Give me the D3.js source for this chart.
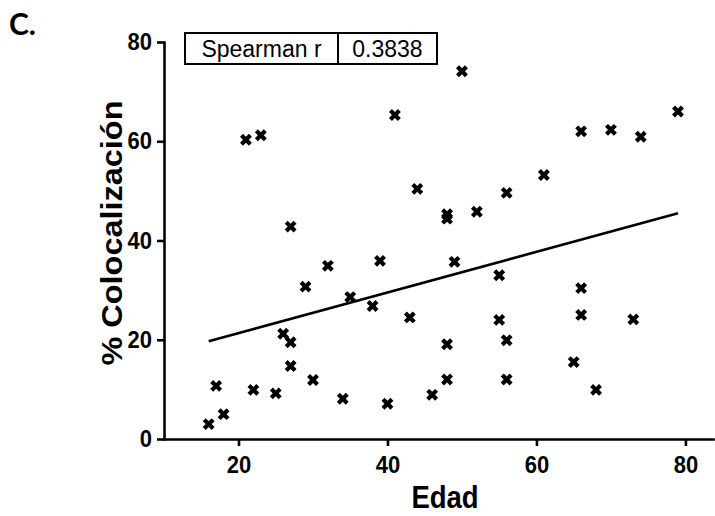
<!DOCTYPE html>
<html><head><meta charset="utf-8">
<script src="https://cdn.jsdelivr.net/npm/d3@7"></script>
<style>
body{margin:0;background:#fff}
svg{display:block;background:#fff}
text{font-family:"Liberation Sans",Arial,sans-serif;fill:#000}
</style>
</head><body>
<svg id="chart" width="715" height="516"></svg>
<script>
// ---- data ----
const ages  = [16,17,18,21,22,23,25,26,27,27,27,29,30,32,34,35,38,39,40,41,43,44,46,48,48,48,48,49,50,52,55,55,56,56,56,61,65,66,66,66,68,70,73,74,79];
const coloc = [3.0,10.7,5.0,60.3,9.9,61.2,9.2,21.2,19.5,14.7,42.8,30.7,11.9,34.9,8.1,28.6,26.8,35.9,7.1,65.3,24.5,50.4,8.9,45.3,44.4,19.1,12.0,35.7,74.1,45.8,33.0,24.0,49.6,19.9,12.0,53.2,15.5,62.0,30.4,25.0,9.9,62.3,24.1,60.9,66.0];
const fitAges   = [16, 79];
const fitValues = [19.7, 45.5];
const xTicks = [20, 40, 60, 80];
const yTicks = [0, 20, 40, 60, 80];
const statLabel = "Spearman r";
const statValue = "0.3838";
const xTitle = "Edad";
const yTitle = "% Colocalización";
const panelLabel = "C.";

// ---- layout ----
const svg = d3.select("#chart");
const x = d3.scaleLinear().domain([10, 83.7]).range([164, 713]);
const y = d3.scaleLinear().domain([0, 80]).range([439, 42]);

// axes
const gx = svg.append("g").attr("transform", `translate(0,${y(0)})`)
  .call(d3.axisBottom(x).tickValues(xTicks).tickSize(7).tickSizeOuter(0).tickPadding(9));
const gy = svg.append("g").attr("transform", `translate(${x(10)},0)`)
  .call(d3.axisLeft(y).tickValues(yTicks).tickSize(7).tickSizeOuter(0).tickPadding(5));
[gx, gy].forEach(g => {
  g.selectAll("path.domain").attr("stroke", "#000").attr("stroke-width", 2.6).attr("stroke-linecap", "square");
  g.selectAll(".tick line").attr("stroke", "#000").attr("stroke-width", 2.6);
  g.selectAll(".tick text").attr("font-size", 22).attr("font-weight", "bold")
    .attr("font-family", "'Liberation Sans',Arial,sans-serif").attr("fill", "#000")
    .attr("transform", "scale(1,1.08)");
});

// regression line
svg.append("path")
  .datum(fitAges.map((a, i) => [a, fitValues[i]]))
  .attr("fill", "none").attr("stroke", "#000").attr("stroke-width", 2.6)
  .attr("d", d3.line().x(d => x(d[0])).y(d => y(d[1])));

// points (bold X markers)
const sym = d3.symbol().type(d3.symbolCross).size(88);
svg.append("g").selectAll("path").data(ages.map((a, i) => [a, coloc[i]]))
  .join("path")
  .attr("d", sym)
  .attr("transform", d => `translate(${x(d[0])},${y(d[1])}) rotate(45)`)
  .attr("fill", "#000");

// stat box
const box = svg.append("g");
box.append("rect").attr("x", 185).attr("y", 33).attr("width", 252).attr("height", 31)
  .attr("fill", "#fff").attr("stroke", "#000").attr("stroke-width", 2);
box.append("line").attr("x1", 338).attr("x2", 338).attr("y1", 33).attr("y2", 64)
  .attr("stroke", "#000").attr("stroke-width", 2);
box.append("text").attr("x", 261.5).attr("y", 57).attr("text-anchor", "middle")
  .attr("font-size", 23).text(statLabel);
box.append("text").attr("x", 387.5).attr("y", 57).attr("text-anchor", "middle")
  .attr("font-size", 23).text(statValue);

// titles
svg.append("text").attr("transform", "translate(445,508) scale(1,1.16)").attr("text-anchor", "middle")
  .attr("font-size", 27.5).attr("font-weight", "bold").text(xTitle);
svg.append("text").attr("transform", "translate(122,233) scale(1,1.1) rotate(-90)").attr("text-anchor", "middle")
  .attr("font-size", 29.5).attr("font-weight", "bold").text(yTitle);
svg.append("text").attr("x", 9).attr("y", 35)
  .style("font-family", "Lato,'Open Sans',sans-serif")
  .attr("font-size", 30).attr("font-weight", "bold").text(panelLabel);
</script>
</body></html>
